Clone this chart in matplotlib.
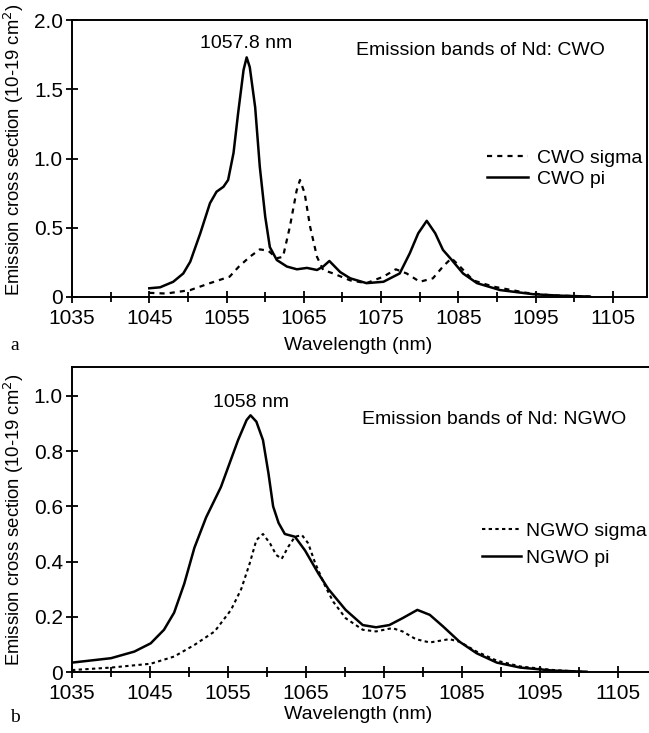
import matplotlib
matplotlib.use("Agg")
import matplotlib.pyplot as plt
from matplotlib.ticker import MultipleLocator

plt.rcParams['font.family'] = ['Liberation Sans', 'DejaVu Sans']

# ---- data: panel a (CWO) ----
cwo_pi_wl = [1045, 1046.4, 1048.1, 1049.4, 1050.3, 1051.6, 1052.85, 1053.7, 1054.6, 1055.2,
             1055.9, 1056.5, 1057.2, 1057.6, 1058.0, 1058.7, 1059.3, 1060.0, 1060.6, 1061.5,
             1062.8, 1064.1, 1065.4, 1066.7, 1067.5, 1068.3, 1069.7, 1071.0, 1073.1, 1075.3,
             1077.4, 1078.7, 1079.8, 1080.9, 1082.0, 1083.0, 1084.1, 1085.6, 1087.4, 1090.4,
             1094.7, 1098, 1102]
cwo_pi = [0.063, 0.07, 0.11, 0.17, 0.255, 0.46, 0.677, 0.76, 0.796, 0.845,
          1.04, 1.33, 1.64, 1.73, 1.66, 1.37, 0.94, 0.58, 0.36, 0.267,
          0.22, 0.20, 0.21, 0.195, 0.22, 0.26, 0.18, 0.135, 0.10, 0.11,
          0.17, 0.315, 0.46, 0.55, 0.46, 0.34, 0.27, 0.17, 0.10, 0.05,
          0.02, 0.01, 0.003]

cwo_sigma_wl = [1045, 1047.2, 1050.3, 1052.85, 1055.4, 1056.6, 1058.0, 1059.3, 1060.4, 1061.5,
                1062.3, 1063.2, 1064.07, 1064.5, 1065.1, 1065.8, 1066.7, 1067.5, 1068.8, 1071.0,
                1073.1, 1075.3, 1076.9, 1078.3, 1080.0, 1081.7, 1083.0, 1084.1, 1085.2, 1086.9,
                1089.5, 1093.8, 1097, 1102]
cwo_sigma = [0.03, 0.025, 0.05, 0.10, 0.147, 0.22, 0.29, 0.344, 0.334, 0.28,
             0.29, 0.51, 0.77, 0.845, 0.75, 0.51, 0.29, 0.195, 0.17, 0.12,
             0.10, 0.147, 0.20, 0.17, 0.11, 0.135, 0.22, 0.28, 0.22, 0.12,
             0.075, 0.03, 0.012, 0.003]

# ---- data: panel b (NGWO) ----
ngwo_pi_wl = [1035, 1040, 1043, 1045.1, 1046.8, 1048.1, 1049.4, 1050.7, 1052.2, 1054.1,
              1056.3, 1057.4, 1057.9, 1058.65, 1059.5, 1060.2, 1060.8, 1061.5, 1062.3, 1063.6,
              1064.9, 1066.6, 1067.9, 1070.1, 1072.3, 1074.0, 1075.7, 1077.4, 1079.3, 1080.9,
              1082.6, 1084.7, 1086.9, 1089.5, 1092.5, 1096.8, 1101]
ngwo_pi = [0.034, 0.05, 0.074, 0.104, 0.153, 0.215, 0.32, 0.45, 0.56, 0.67,
           0.84, 0.913, 0.93, 0.907, 0.84, 0.72, 0.60, 0.54, 0.50, 0.49,
           0.44, 0.357, 0.30, 0.225, 0.17, 0.162, 0.17, 0.195, 0.225, 0.207,
           0.165, 0.11, 0.068, 0.034, 0.016, 0.005, 0.001]

ngwo_sigma_wl = [1035, 1040, 1045.1, 1048.1, 1050.7, 1053.3, 1055.4, 1056.7, 1057.8, 1058.65,
                 1059.5, 1060.4, 1061.2, 1061.9, 1062.75, 1063.6, 1064.5, 1065.3, 1066.2, 1067.5,
                 1068.5, 1070.1, 1072.3, 1074.0, 1076.1, 1077.4, 1079.1, 1080.9, 1083.4, 1084.7,
                 1086.9, 1089.5, 1092.5, 1096.8, 1101]
ngwo_sigma = [0.007, 0.016, 0.03, 0.056, 0.098, 0.147, 0.225, 0.30, 0.394, 0.478,
              0.50, 0.466, 0.424, 0.41, 0.454, 0.49, 0.496, 0.466, 0.394, 0.31,
              0.255, 0.195, 0.153, 0.147, 0.159, 0.147, 0.119, 0.107, 0.119, 0.11,
              0.074, 0.041, 0.02, 0.007, 0.0]

x_ticks = [1035, 1045, 1055, 1065, 1075, 1085, 1095, 1105]
ya_ticks = [0, 0.5, 1.0, 1.5, 2.0]
ya_labels = ["0", "0.5", "1.0", "1.5", "2.0"]
yb_ticks = [0, 0.2, 0.4, 0.6, 0.8, 1.0]
yb_labels = ["0", "0.2", "0.4", "0.6", "0.8", "1.0"]

W, H = 649, 733
fig = plt.figure(figsize=(W / 100, H / 100), dpi=100)

def px_axes(l, t, r, b):
    return fig.add_axes([l / W, 1 - b / H, (r - l) / W, (b - t) / H])

ax1 = px_axes(72, 20, 647, 297)
ax2 = px_axes(72, 367, 652, 672)

ylabel = "Emission cross section (10-19 cm$^2$)"

for ax in (ax1, ax2):
    ax.set_xlim(1035, 1109.4)
    ax.set_xticks(x_ticks)
    ax.xaxis.set_minor_locator(MultipleLocator(5))
    ax.tick_params(axis='both', which='major', direction='inout', length=9, width=1.3,
                   labelsize=15)
    ax.tick_params(axis='x', which='major', pad=4)
    ax.tick_params(axis='y', which='major', pad=2)
    ax.tick_params(axis='x', which='minor', direction='inout', length=7, width=1.3)
    for s in ax.spines.values():
        s.set_linewidth(1.4)
    ax.set_xlabel("Wavelength (nm)", fontsize=14)
    ax.set_ylabel(ylabel, fontsize=13.3)

# panel a
ax1.plot(cwo_sigma_wl, cwo_sigma, color='black', lw=1.6, linestyle=(0, (2.3, 2.3)), label="CWO sigma")
ax1.plot(cwo_pi_wl, cwo_pi, color='black', lw=1.8, label="CWO pi")
ax1.set_ylim(0, 2.0)
ax1.set_yticks(ya_ticks)
ax1.set_yticklabels(ya_labels)
ax1.text(1057.5, 1.83, "1057.8 nm", fontsize=14, ha='center', va='center')
ax1.text(1087.8, 1.78, "Emission bands of Nd: CWO", fontsize=14, ha='center', va='center')
ax1.legend(loc='upper left', bbox_to_anchor=(487 / W, 1 - 149 / H), bbox_transform=fig.transFigure,
           frameon=False, fontsize=14, handlelength=2.1, handletextpad=0.45,
           labelspacing=0.18, borderpad=0, borderaxespad=0)
ax1.xaxis.set_label_coords(0.497, -0.145)
ax1.yaxis.set_label_coords(-0.08, 0.53)
fig.text(10 / W, 1 - 345 / H, "a", fontsize=14, family=['Liberation Serif', 'DejaVu Serif'], va='center')

# panel b
ax2.plot(ngwo_sigma_wl, ngwo_sigma, color='black', lw=1.5, linestyle=(0, (1.6, 1.6)), label="NGWO sigma")
ax2.plot(ngwo_pi_wl, ngwo_pi, color='black', lw=1.8, label="NGWO pi")
ax2.set_ylim(0, 1.105)
ax2.set_yticks(yb_ticks)
ax2.set_yticklabels(yb_labels)
ax2.spines['right'].set_visible(False)
ax2.text(1058.0, 0.975, "1058 nm", fontsize=14, ha='center', va='center')
ax2.text(1089.2, 0.913, "Emission bands of Nd: NGWO", fontsize=14, ha='center', va='center')
ax2.legend(loc='upper left', bbox_to_anchor=(482 / W, 1 - 522 / H), bbox_transform=fig.transFigure,
           frameon=False, fontsize=14, handlelength=2.0, handletextpad=0.25,
           labelspacing=0.5, borderpad=0, borderaxespad=0)
ax2.xaxis.set_label_coords(0.493, -0.11)
ax2.yaxis.set_label_coords(-0.08, 0.5)
fig.text(10 / W, 1 - 717 / H, "b", fontsize=14, family=['Liberation Serif', 'DejaVu Serif'], va='center')

fig.savefig("out.png", dpi=100)
